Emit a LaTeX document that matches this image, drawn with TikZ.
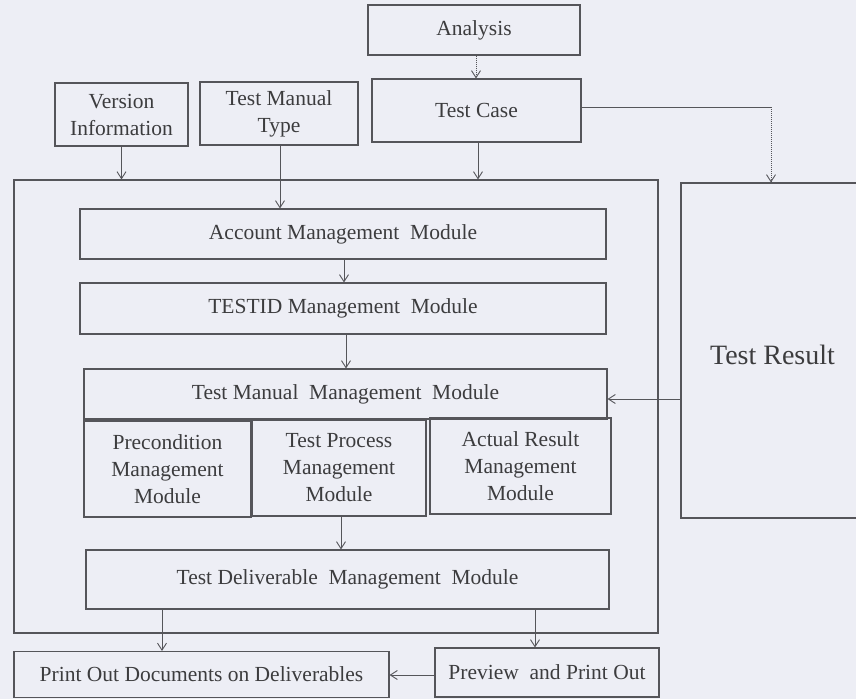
\documentclass[tikz,border=0pt]{standalone}
\usepackage{fontspec}
\setmainfont{Liberation Serif}
\usetikzlibrary{arrows.meta}
\definecolor{bgc}{RGB}{237,238,245}
\definecolor{linec}{RGB}{85,85,90}
\definecolor{textc}{RGB}{60,60,62}
\tikzset{
  box/.style={draw=linec, line width=1.1pt, rectangle, inner sep=0pt, text=textc, align=center,
     font=\fontsize{21.5}{27}\selectfont},
  arr/.style={draw=linec, line width=1pt, -{Straight Barb[length=7pt,width=9pt,line width=0.9pt]}},
  dotarr/.style={arr, densely dotted},
}
\begin{document}
\begin{tikzpicture}[x=1pt,y=-1pt]
\fill[bgc] (0,0) rectangle (856,699);
\useasboundingbox (0,0) rectangle (856,699);
\begin{scope}
\clip (0,0) rectangle (856,699);
% outer container
\node[box, minimum width=644, minimum height=453] (outer) at (336,406.5) {};
\node[box, minimum width=185, minimum height=335] (result) at (773.5,350.5) {};
\node[text=textc, font=\fontsize{28}{32}\selectfont] (resultlbl) at (772.5,355) {Test Result};

\node[box, minimum width=212, minimum height=50] (analysis) at (474,30) {Analysis};
\node[box, minimum width=209, minimum height=63] (testcase) at (476.5,110.5) {Test Case};
\node[box, minimum width=133, minimum height=63] (version) at (121.5,114.5) {Version\\Information};
\node[box, minimum width=158, minimum height=63] (tmtype) at (279,113.5) {Test Manual\\Type};

\node[box, minimum width=526, minimum height=50] (account) at (343,234) {Account Management\ \ Module};
\node[box, minimum width=526, minimum height=51] (testid) at (343,308.5) {TESTID Management\ \ Module};
\node[box, minimum width=523, minimum height=50] (tmm) at (345.5,394) {Test Manual\ \ Management\ \ Module};
\node[box, minimum width=167, minimum height=96] (precond) at (167.5,469) {Precondition\\Management\\Module};
\node[box, minimum width=174, minimum height=96] (process) at (339,468) {Test Process\\Management\\Module};
\node[box, minimum width=181, minimum height=96] (actual) at (520.5,466) {Actual Result\\Management\\Module};
\node[box, minimum width=523, minimum height=59] (deliv) at (347.5,579.5) {Test Deliverable\ \ Management\ \ Module};
\node[box, minimum width=375, minimum height=46] (printdocs) at (201.5,674.5) {Print Out Documents on Deliverables};
\node[box, minimum width=224, minimum height=49] (preview) at (547,672.5) {Preview\ \ and Print Out};

% connectors
\draw[dotarr] (analysis.south -| 476,0) -- (testcase.north -| 476,0);
\draw[arr] (testcase.south -| 478,0) -- (outer.north -| 478,0);
\draw[arr] (version.south -| 121.5,0) -- (outer.north -| 121.5,0);
\draw[arr] (tmtype.south -| 280,0) -- (account.north -| 280,0);
\draw[arr] (account.south -| 344,0) -- (testid.north -| 344,0);
\draw[arr] (testid.south -| 346,0) -- (tmm.north -| 346,0);
\draw[arr] (result.west |- 0,399) -- (tmm.east |- 0,399);
\coordinate (tcturn) at (771,107);
\draw[draw=linec, line width=1pt] (testcase.east |- tcturn) -- (tcturn);
\draw[dotarr] (tcturn) -- (result.north -| tcturn);
\draw[arr] (process.south -| 341,0) -- (deliv.north -| 341,0);
\draw[arr] (deliv.south -| 162,0) -- (printdocs.north -| 162,0);
\draw[arr] (deliv.south -| 535,0) -- (preview.north -| 535,0);
\draw[arr] (preview.west |- 0,675) -- (printdocs.east |- 0,675);
\end{scope}
\end{tikzpicture}
\end{document}
